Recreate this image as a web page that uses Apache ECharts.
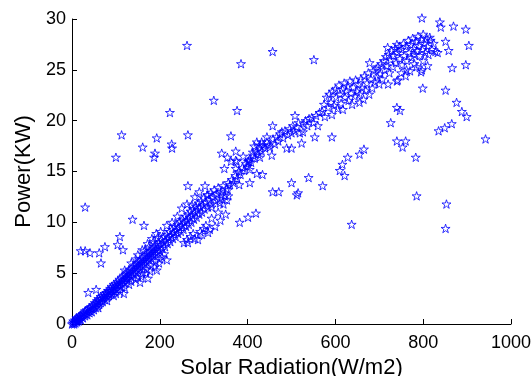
<!DOCTYPE html>
<html><head><meta charset="utf-8">
<script src="https://cdn.jsdelivr.net/npm/echarts@6/dist/echarts.min.js"></script>
<style>html,body{margin:0;padding:0;background:#fff}#c{width:532px;height:376px}</style>
</head><body><div id="c"></div>
<script>
// [Solar Radiation (W/m2), Power (KW)]
const lowBand = [[0,0],[2,0.1],[3,0.3],[5,0],[5,0.2],[7,0.4],[8,0.1],[10,0.3],[10,0.6],[12,0.2],[12,0.5],[14,0.4],[15,0.7],[16,0.3],[18,0.5],[18,0.8],[20,0.4],[20,0.9],[22,0.7],[24,1.0],[25,0.6],[26,0.9],[28,1.1],[30,0.8],[30,1.3],[32,1.0],[34,1.4],[35,0.9],[36,1.2],[38,1.5],[40,1.1],[40,1.6],[42,1.3],[44,1.7],[45,1.2],[46,1.5],[48,1.9],[50,1.4],[50,1.8],[52,2.1],[54,1.6],[55,2.0],[57,2.3],[58,1.8],[60,2.2],[60,2.5],[62,1.9],[64,2.4],[65,2.7],[66,2.1],[68,2.5],[70,2.8],[70,2.2],[72,2.6],[74,3.0],[75,2.4],[76,2.8],[78,3.1],[80,2.6],[80,3.0],[82,3.3],[84,2.8],[85,3.2],[87,3.5],[88,2.9],[90,3.3],[90,3.7],[92,3.0],[94,3.5],[95,3.9],[96,3.2],[98,3.7],[100,4.0],[100,3.4],[102,3.8],[104,4.2],[105,3.5],[107,3.9],[108,4.4],[110,3.7],[111,4.1],[113,4.6],[115,3.9],[116,4.3],[118,4.8],[120,4.1],[121,4.5],[123,5.0],[125,4.3],[126,4.7],[128,5.2],[130,4.5],[131,4.9],[133,5.4],[135,4.7],[136,5.1],[138,5.6],[140,4.9],[141,5.3],[143,5.8],[145,5.1],[146,5.5],[148,6.0],[150,5.3],[151,5.7],[153,6.2],[155,5.5],[156,5.9],[158,6.4],[160,5.7],[161,6.1],[163,6.6],[165,5.9],[166,6.3],[168,6.8],[170,6.1],[171,6.5],[173,7.0],[175,6.3],[176,6.7],[178,7.2],[180,6.5],[181,6.9],[183,7.4],[185,6.7],[186,7.1],[188,7.6],[190,6.9],[191,7.3],[193,7.8],[195,7.1],[196,7.5],[198,8.0],[200,7.2],[120,3.6],[135,4.2],[150,4.6],[160,5.0],[170,5.4],[180,5.8],[190,6.2],[200,6.4],[110,3.2],[95,2.8],[145,6.4],[165,7.2],[175,7.6],[185,8.1],[195,8.5],[130,3.9],[145,4.4],[158,4.7],[168,5.0],[178,5.2],[188,5.6],[198,6.0],[205,6.6],[210,6.9],[120,5.3],[135,6.0],[150,6.8],[160,7.3],[172,7.9],[182,8.4],[192,8.9],[202,9.1],[60,1.6],[80,2.3],[100,3.0]];
const midBand = [[202,7.8],[204,8.3],[206,7.4],[208,8.0],[210,8.6],[212,7.6],[214,8.2],[216,8.8],[218,7.9],[220,8.5],[222,9.1],[224,8.1],[226,8.7],[228,9.3],[230,8.4],[232,9.0],[234,9.6],[236,8.6],[238,9.2],[240,9.8],[242,8.9],[244,9.5],[246,10.1],[248,9.1],[250,9.7],[252,10.3],[254,9.3],[256,10.0],[258,10.6],[260,9.6],[262,10.2],[264,10.8],[266,9.8],[268,10.5],[270,11.1],[272,10.0],[274,10.7],[276,11.3],[278,10.3],[280,11.0],[282,11.6],[284,10.5],[286,11.2],[288,11.9],[290,10.8],[292,11.5],[294,12.1],[296,11.0],[298,11.7],[300,12.4],[302,11.3],[305,12.0],[308,12.7],[310,11.5],[313,12.2],[316,12.9],[318,11.8],[321,12.5],[324,13.2],[327,12.1],[330,12.8],[333,13.4],[336,12.3],[340,13.0],[344,13.6],[348,12.6],[352,13.3],[356,13.9],[255,8.0],[262,8.3],[264,8.0],[270,8.6],[276,8.9],[280,8.4],[287,8.3],[292,9.1],[296,8.8],[300,9.4],[305,9.7],[310,9.0],[314,9.3],[318,10.4],[326,9.6],[333,11.0],[338,10.2],[345,11.8],[350,10.8],[356,12.6],[228,10.0],[240,10.6],[250,11.4],[262,11.8],[273,11.7],[280,12.5],[290,13.0],[310,12.7],[318,11.5],[337,11.9],[341,12.7],[353,12.2],[360,13.7],[364,14.2],[368,13.9],[372,14.6],[376,14.3],[380,15.0],[384,14.7],[388,15.4],[392,15.1],[396,15.8],[400,15.5],[404,16.2],[408,15.9],[412,16.6],[416,16.3],[420,17.0],[424,16.7],[428,17.3],[432,17.0],[436,17.6],[440,17.3],[444,17.9],[448,17.6],[412,16.9],[421,17.9],[428,16.4],[401,16.0],[405,15.2],[375,16.0],[354,16.4],[362,16.0],[390,16.5],[415,17.5],[432,17.9]];
const highBand = [[451,17.4],[455,16.6],[458,18.2],[462,17.7],[466,18.4],[470,18.0],[474,18.7],[478,18.9],[481,18.3],[485,19.0],[489,17.3],[492,18.6],[496,19.2],[500,18.8],[500,17.3],[503,19.5],[506,19.0],[508,20.5],[512,19.4],[516,19.8],[519,18.8],[523,17.8],[526,18.9],[528,19.7],[532,20.0],[536,19.5],[540,20.2],[546,20.3],[550,19.8],[553,18.4],[556,20.5],[560,19.5],[564,20.8],[444,18.4],[457,19.5],[428,17.6],[570,20.9],[574,21.6],[576,20.4],[580,22.3],[583,21.3],[586,22.6],[590,21.8],[592,20.6],[594,22.9],[597,21.5],[600,23.1],[602,22.3],[605,21.2],[608,23.5],[610,22.6],[613,21.7],[616,23.1],[617,21.1],[620,23.7],[622,22.3],[625,22.9],[628,23.4],[630,22.0],[633,23.9],[636,22.7],[638,21.6],[641,23.3],[644,22.4],[646,24.0],[649,22.9],[652,23.6],[655,21.8],[655,22.6],[658,24.1],[661,23.2],[664,22.1],[666,24.4],[669,23.0],[672,23.7],[675,24.7],[677,22.6],[678,25.7],[681,24.1],[684,23.2],[687,24.9],[690,23.8],[693,25.1],[696,24.3],[697,25.3],[700,23.6],[592,18.4],[702,24.6],[704,25.6],[707,24.1],[710,25.9],[712,25.0],[715,26.3],[717,25.4],[719,27.2],[721,26.5],[723,24.7],[726,26.0],[728,26.9],[731,25.3],[733,26.4],[736,27.1],[738,25.7],[740,27.5],[741,26.7],[742,24.0],[745,27.3],[747,26.1],[750,27.0],[752,25.5],[755,27.6],[757,26.4],[760,27.3],[762,25.0],[763,25.9],[766,27.9],[768,26.7],[771,27.5],[773,26.2],[776,28.1],[778,27.1],[780,26.5],[783,27.8],[785,26.9],[788,28.3],[790,27.4],[792,26.4],[795,28.0],[797,25.0],[798,27.0],[800,28.5],[802,27.6],[805,26.7],[808,28.1],[810,27.3],[812,26.5],[815,28.2],[817,27.9],[820,27.0],[824,27.6],[828,26.8],[833,26.7],[780,25.6],[800,25.9],[760,24.4],[740,23.9],[720,23.6],[750,24.7],[810,25.4],[795,24.8],[770,24.9],[785,25.3]];
const outliers = [[262,27.4],[385,25.6],[323,22.0],[376,21.0],[223,20.8],[113,18.6],[264,18.6],[100,16.4],[161,17.4],[189,16.8],[187,16.4],[193,18.3],[227,17.7],[228,17.3],[362,18.5],[341,16.8],[373,17.0],[373,16.1],[347,15.3],[373,15.3],[403,16.0],[421,14.8],[434,14.7],[405,13.9],[264,13.6],[303,13.6],[355,13.2],[381,13.7],[797,30.1],[838,29.7],[840,29.2],[869,29.3],[897,29.0],[904,27.4],[851,27.8],[858,26.9],[866,25.2],[897,25.5],[799,23.2],[851,23.0],[876,21.8],[888,20.9],[899,20.4],[865,19.7],[849,19.3],[835,19.0],[942,18.2],[726,19.8],[740,21.3],[747,21.0],[740,18.0],[753,17.4],[760,18.0],[783,16.4],[457,26.8],[551,26.0],[665,17.2],[655,16.7],[628,16.4],[616,15.7],[610,15.1],[621,14.6],[539,14.4],[500,13.9],[571,13.6],[457,13.0],[471,13.0],[512,12.7],[515,12.9],[785,12.6],[853,11.8],[851,9.4],[637,9.8],[30,11.5],[20,7.2],[30,7.2],[41,7.0],[62,7.0],[75,7.6],[66,6.0],[109,8.6],[104,7.8],[116,7.3],[138,10.3],[164,9.7],[37,3.1],[55,3.4],[118,3.0],[382,10.0],[401,10.5],[419,10.9],[193,5.3],[173,4.5],[155,4.1],[125,4.5],[216,6.3],[216,9.7]];
const xTicks = [0, 200, 400, 600, 800, 1000];
const yTicks = [0, 5, 10, 15, 20, 25, 30];
const xTitle = 'Solar Radiation(W/m2)';
const yTitle = 'Power(KW)';

const star = 'path://M10,0L12.245,6.91L19.51,6.91L13.633,11.18L15.878,18.09L10,13.82L4.122,18.09L6.367,11.18L0.49,6.91L7.755,6.91Z';
const font = "'Liberation Sans', Arial, sans-serif";
const chart = echarts.init(document.getElementById('c'), null, {renderer: 'canvas'});
const axisCommon = {
  type: 'value',
  nameLocation: 'middle',
  nameTextStyle: {fontFamily: font, fontSize: 22, color: '#000'},
  axisLine: {show: true, lineStyle: {color: '#000', width: 1}},
  axisTick: {show: true, inside: true, length: 5, lineStyle: {color: '#000'}},
  axisLabel: {fontFamily: font, fontSize: 18, color: '#000', formatter: v => String(v)},
  splitLine: {show: false}
};
chart.setOption({
  animation: false,
  backgroundColor: '#fff',
  grid: {left: 72, right: 21, top: 19, bottom: 52, containLabel: false, outerBoundsMode: 'none'},
  xAxis: Object.assign({}, axisCommon, {
    min: xTicks[0], max: xTicks[xTicks.length - 1], interval: xTicks[1] - xTicks[0],
    name: xTitle, nameGap: 32,
    axisLabel: Object.assign({}, axisCommon.axisLabel, {margin: 10})
  }),
  yAxis: Object.assign({}, axisCommon, {
    min: yTicks[0], max: yTicks[yTicks.length - 1], interval: yTicks[1] - yTicks[0],
    name: yTitle, nameGap: 36,
    axisLabel: Object.assign({}, axisCommon.axisLabel, {margin: 6})
  }),
  series: [{
    type: 'scatter',
    clip: false,
    symbol: star,
    symbolKeepAspect: true,
    symbolSize: 9,
    itemStyle: {color: 'rgba(0,0,0,0)', borderColor: '#0000ff', borderWidth: 1},
    data: [].concat(lowBand, midBand, highBand, outliers)
  }]
});
</script></body></html>
